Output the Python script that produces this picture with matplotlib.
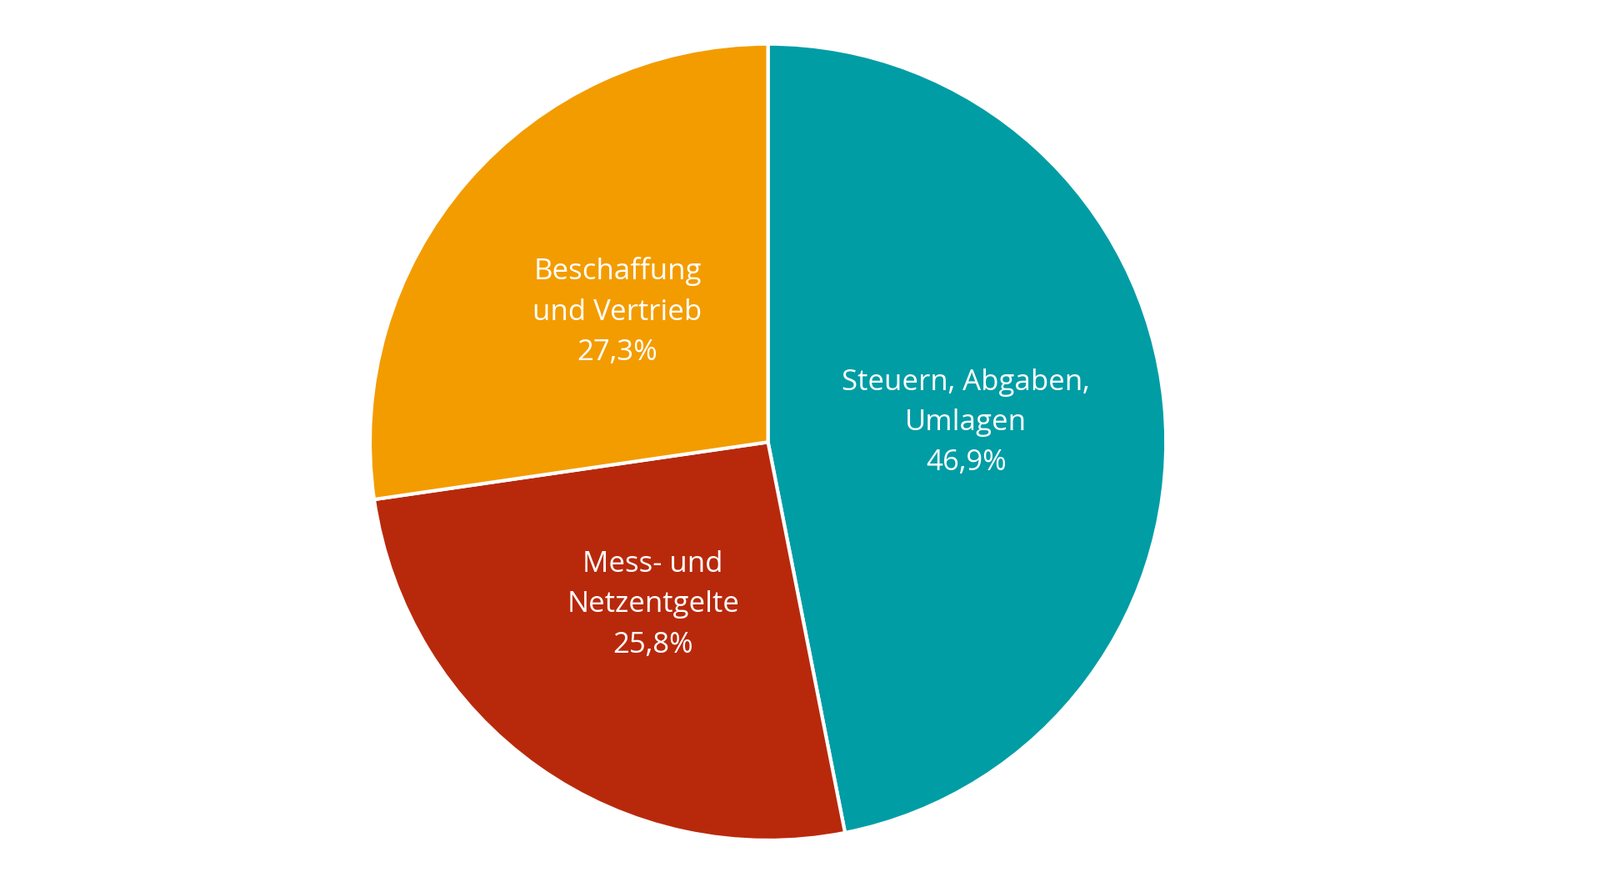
import matplotlib
matplotlib.use("Agg")
import matplotlib.pyplot as plt

labels = ["Steuern, Abgaben,\nUmlagen", "Mess- und\nNetzentgelte", "Beschaffung\nund Vertrieb"]
values = [46.9, 25.8, 27.3]
colors = ["#009DA5", "#B8290C", "#F39C00"]

fig = plt.figure(figsize=(19.2, 10.46), dpi=100)
ax = fig.add_axes([0.48 - 0.25, 0.493 - 0.459, 0.5, 0.918])
texts_in = [f"{l}\n{v:.1f}%".replace(".", ",") for l, v in zip(labels, values)]
wedges, texts = ax.pie(values, labels=texts_in, colors=colors, startangle=90,
                       counterclock=False, labeldistance=0.5,
                       wedgeprops=dict(edgecolor="white", linewidth=3),
                       textprops=dict(color="white", fontsize=25, family="Open Sans"))
for t in texts:
    t.set_ha("center"); t.set_va("center"); t.set_linespacing(1.55)
ax.set_xlim(-1.005, 1.005)
ax.set_ylim(-1.005, 1.005)
ax.set_aspect("equal")
fig.savefig("out.png", dpi=100)
